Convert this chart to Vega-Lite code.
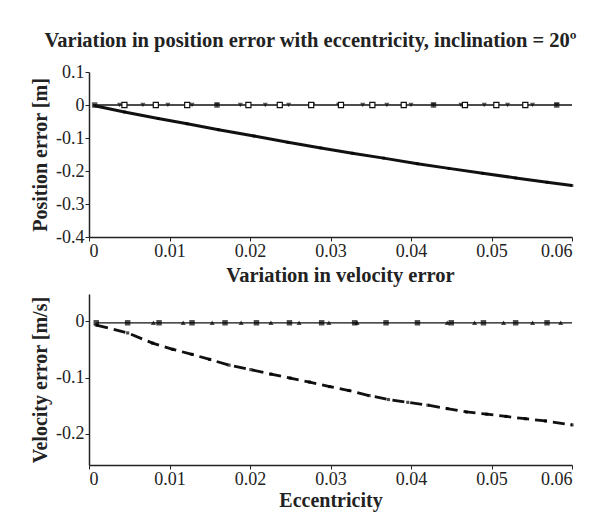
{
  "$schema": "https://vega.github.io/schema/vega-lite/v6.json",
  "background": "white",
  "padding": {"left": 30, "top": 30, "right": 5, "bottom": 5},
  "config": {
    "font": "Liberation Serif",
    "view": {"stroke": null},
    "axis": {
      "labelFont": "Liberation Serif", "labelFontSize": 18, "labelColor": "#222",
      "titleFont": "Liberation Serif", "titleFontSize": 20, "titleFontWeight": "bold", "titleColor": "#222",
      "domainColor": "#222", "domainWidth": 1.5, "tickColor": "#222", "tickSize": 4, "grid": false
    },
    "title": {"font": "Liberation Serif", "fontSize": 20.5, "fontWeight": "bold", "color": "#222"},
    "concat": {"spacing": 5}
  },
  "datasets": {
    "posCurve": [
      {"e": 0.0007, "err": -0.002}, {"e": 0.0044, "err": -0.021}, {"e": 0.0086, "err": -0.041},
      {"e": 0.0122, "err": -0.057}, {"e": 0.0161, "err": -0.075}, {"e": 0.0205, "err": -0.094},
      {"e": 0.0247, "err": -0.113}, {"e": 0.0288, "err": -0.130}, {"e": 0.0327, "err": -0.146},
      {"e": 0.0366, "err": -0.161}, {"e": 0.0408, "err": -0.178}, {"e": 0.0447, "err": -0.192},
      {"e": 0.0489, "err": -0.207}, {"e": 0.053, "err": -0.221}, {"e": 0.0569, "err": -0.234},
      {"e": 0.06, "err": -0.244}
    ],
    "posZero": [{"e": 0.0005, "err": 0}, {"e": 0.06, "err": 0}],
    "posTri": [
      {"e": 0.0038, "err": 0}, {"e": 0.0067, "err": 0}, {"e": 0.0098, "err": 0}, {"e": 0.0128, "err": 0},
      {"e": 0.0159, "err": 0}, {"e": 0.0188, "err": 0}, {"e": 0.0219, "err": 0}, {"e": 0.0248, "err": 0},
      {"e": 0.0278, "err": 0}, {"e": 0.031, "err": 0}, {"e": 0.034, "err": 0}, {"e": 0.037, "err": 0},
      {"e": 0.040, "err": 0}, {"e": 0.0428, "err": 0}, {"e": 0.0462, "err": 0}, {"e": 0.0491, "err": 0},
      {"e": 0.052, "err": 0}, {"e": 0.0551, "err": 0}, {"e": 0.0581, "err": 0}
    ],
    "posSq": [
      {"e": 0.0044, "err": 0}, {"e": 0.0083, "err": 0}, {"e": 0.0122, "err": 0},
      {"e": 0.0198, "err": 0}, {"e": 0.0237, "err": 0}, {"e": 0.0276, "err": 0}, {"e": 0.0313, "err": 0},
      {"e": 0.0352, "err": 0}, {"e": 0.0391, "err": 0}, {"e": 0.0467, "err": 0},
      {"e": 0.0506, "err": 0}, {"e": 0.0542, "err": 0}
    ],
    "posFill": [
      {"e": 0.0007, "err": 0}, {"e": 0.0159, "err": 0}, {"e": 0.0428, "err": 0}, {"e": 0.0581, "err": 0}
    ],
    "velCurve": [
      {"e": 0.0009, "err": -0.007}, {"e": 0.0048, "err": -0.021}, {"e": 0.0079, "err": -0.039},
      {"e": 0.0104, "err": -0.050}, {"e": 0.0128, "err": -0.059}, {"e": 0.015, "err": -0.068},
      {"e": 0.0174, "err": -0.078}, {"e": 0.0201, "err": -0.086}, {"e": 0.0226, "err": -0.094},
      {"e": 0.025, "err": -0.101}, {"e": 0.0274, "err": -0.108}, {"e": 0.0299, "err": -0.116},
      {"e": 0.0323, "err": -0.123}, {"e": 0.0348, "err": -0.132}, {"e": 0.0372, "err": -0.139},
      {"e": 0.0396, "err": -0.144}, {"e": 0.0421, "err": -0.149}, {"e": 0.0445, "err": -0.155},
      {"e": 0.0469, "err": -0.161}, {"e": 0.0494, "err": -0.165}, {"e": 0.0518, "err": -0.169},
      {"e": 0.0542, "err": -0.173}, {"e": 0.0567, "err": -0.177}, {"e": 0.06, "err": -0.184}
    ],
    "velZero": [{"e": 0.0009, "err": -0.003}, {"e": 0.06, "err": -0.003}],
    "velSq": [
      {"e": 0.0009, "err": -0.003}, {"e": 0.0048, "err": -0.003}, {"e": 0.0087, "err": -0.003},
      {"e": 0.0128, "err": -0.003}, {"e": 0.0169, "err": -0.003}, {"e": 0.0208, "err": -0.003},
      {"e": 0.0249, "err": -0.003}, {"e": 0.0289, "err": -0.003}, {"e": 0.033, "err": -0.003},
      {"e": 0.0369, "err": -0.003}, {"e": 0.0408, "err": -0.003}, {"e": 0.045, "err": -0.003},
      {"e": 0.049, "err": -0.003}, {"e": 0.053, "err": -0.003}, {"e": 0.0569, "err": -0.003}
    ],
    "velTri": [
      {"e": 0.008, "err": -0.003}, {"e": 0.0117, "err": -0.003}, {"e": 0.0153, "err": -0.003},
      {"e": 0.0189, "err": -0.003}, {"e": 0.0226, "err": -0.003}, {"e": 0.0261, "err": -0.003},
      {"e": 0.0298, "err": -0.003}, {"e": 0.0333, "err": -0.003}, {"e": 0.0445, "err": -0.003},
      {"e": 0.0479, "err": -0.003}, {"e": 0.0515, "err": -0.003}, {"e": 0.0551, "err": -0.003},
      {"e": 0.0586, "err": -0.003}
    ]
  },
  "vconcat": [
    {
      "width": 483,
      "height": 165,
      "title": {"text": "Variation in position error with eccentricity, inclination = 20º", "offset": 12, "dx": -20},
      "encoding": {
        "x": {"field": "e", "type": "quantitative", "scale": {"domain": [0, 0.06], "nice": false},
          "axis": {"title": null, "values": [0, 0.01, 0.02, 0.03, 0.04, 0.05, 0.06], "labelExpr": "toString(datum.value)", "labelPadding": 1}},
        "y": {"field": "err", "type": "quantitative", "scale": {"domain": [-0.4, 0.1], "nice": false},
          "axis": {"title": "Position error [m]", "values": [0.1, 0, -0.1, -0.2, -0.3, -0.4], "labelExpr": "toString(datum.value)", "titlePadding": 5, "labelPadding": 1}}
      },
      "layer": [
        {"data": {"name": "posZero"}, "mark": {"type": "line", "color": "#111", "strokeWidth": 1.3}},
        {"data": {"name": "posCurve"}, "mark": {"type": "line", "color": "#111", "strokeWidth": 3}},
        {"data": {"name": "posCurve"}, "mark": {"type": "point", "shape": "square", "filled": true, "color": "#000", "size": 8}},
        {"data": {"name": "posTri"}, "mark": {"type": "point", "shape": "triangle-down", "filled": true, "color": "#111", "size": 26}},
        {"data": {"name": "posSq"}, "mark": {"type": "point", "shape": "square", "filled": true, "fill": "white", "stroke": "#111", "strokeWidth": 1.2, "size": 26, "opacity": 1}},
        {"data": {"name": "posFill"}, "mark": {"type": "point", "shape": "square", "filled": true, "color": "#111", "size": 30}}
      ]
    },
    {
      "width": 483,
      "height": 171,
      "title": {"text": "Variation in velocity error", "offset": 8, "dx": 10},
      "encoding": {
        "x": {"field": "e", "type": "quantitative", "scale": {"domain": [0, 0.06], "nice": false},
          "axis": {"title": "Eccentricity", "values": [0, 0.01, 0.02, 0.03, 0.04, 0.05, 0.06], "labelExpr": "toString(datum.value)", "labelPadding": 1, "titlePadding": 2}},
        "y": {"field": "err", "type": "quantitative", "scale": {"domain": [-0.255, 0.048], "nice": false},
          "axis": {"title": "Velocity error [m/s]", "values": [0, -0.1, -0.2], "labelExpr": "toString(datum.value)", "titlePadding": 5, "labelPadding": 1}}
      },
      "layer": [
        {"data": {"name": "velZero"}, "mark": {"type": "line", "color": "#111", "strokeWidth": 1.3}},
        {"data": {"name": "velCurve"}, "mark": {"type": "line", "color": "#111", "strokeWidth": 2.8, "strokeDash": [12, 6]}},
        {"data": {"name": "velCurve"}, "mark": {"type": "point", "shape": "square", "filled": true, "color": "#000", "size": 10}},
        {"data": {"name": "velSq"}, "mark": {"type": "point", "shape": "square", "filled": true, "color": "#000", "size": 30}},
        {"data": {"name": "velTri"}, "mark": {"type": "point", "shape": "triangle-up", "filled": true, "color": "#000", "size": 26}}
      ]
    }
  ]
}
